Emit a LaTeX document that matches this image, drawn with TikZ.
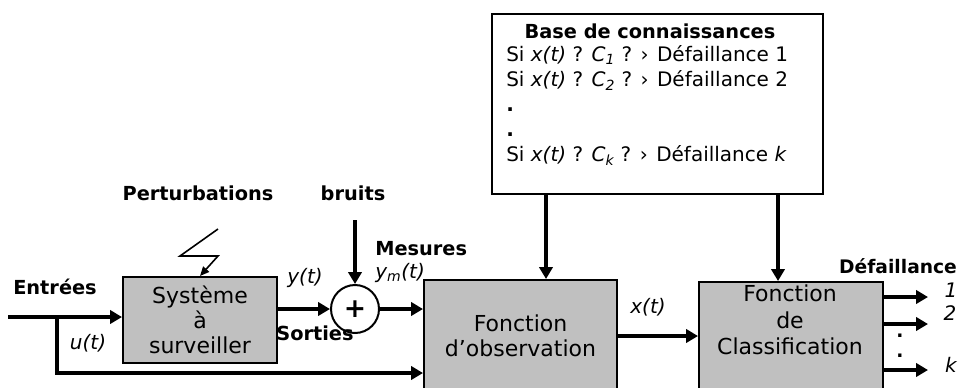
\documentclass[tikz,border=0pt]{standalone}
\usepackage{fontspec}
\setmainfont{DejaVu Sans}
\usetikzlibrary{arrows.meta}
\definecolor{grisbloc}{RGB}{192,192,192}
\begin{document}
\begin{tikzpicture}[
  x=0.75pt, y=-0.75pt,
  every node/.style={inner sep=0pt, font=\fontsize{14}{17}\selectfont},
  fleche/.style={line width=3.5pt, -{Triangle[length=9pt,width=10pt]}}
]
\tikzset{
  bloc/.style={draw, line width=1.5pt, fill=grisbloc, anchor=north west, align=center},
  texte/.style={font=\fontsize{16.5}{18.5}\selectfont},
  titre/.style={font=\fontsize{14.5}{17}\selectfont\bfseries},
  signal/.style={font=\fontsize{15}{17}\selectfont\itshape}
}
\useasboundingbox (0,0) rectangle (959,387);

% base de connaissances
\node[draw, line width=1.5pt, anchor=north west, minimum width=248.25pt, minimum height=135pt] (base) at (491,13) {};
\node[titre] (basetitre) at (650,31) {Base de connaissances};
\node[anchor=north west, align=left, font=\fontsize{15}{18.75}\selectfont] (regles) at (506,45)
  {Si \textit{x(t)} ? \textit{C\textsubscript{1}} ? › Défaillance 1\\
   Si \textit{x(t)} ? \textit{C\textsubscript{2}} ? › Défaillance 2\\
   \textbf{.}\\
   \textbf{.}\\
   Si \textit{x(t)} ? \textit{C\textsubscript{k}} ? › Défaillance \textit{k}};

% blocs
\node[bloc, texte, minimum width=115.5pt, minimum height=64.5pt] (sys) at (122,276) {Système\\à\\surveiller};
\node[bloc, texte, font=\fontsize{16.5}{18.75}\selectfont, minimum width=144.75pt, minimum height=84pt] (obs) at (423,279) {Fonction\\d’observation};
\node[bloc, minimum width=138pt, minimum height=83.25pt] (classif) at (698,281) {};
\node[align=center, font=\fontsize{16.5}{20}\selectfont] (classiftexte) at (790,320) {Fonction\\de\\Classification};
\node[draw, circle, line width=1.5pt, minimum size=36pt, font=\fontsize{20}{20}\selectfont\bfseries] (somme) at (355,309) {+};

% etiquettes
\node[titre] (perturb) at (198,193) {Perturbations};
\node[titre] (bruits) at (353,193) {bruits};
\node[titre] (entrees) at (55,287) {Entrées};
\node[titre] (sorties) at (315,333) {Sorties};
\node[titre, anchor=west] (mesures) at (375,249) {Mesures};
\node[titre, font=\fontsize{14}{17}\selectfont\bfseries] (defail) at (898,266) {Défaillance};
\node[signal] (u) at (88,343) {u(t)};
\node[signal] (y) at (305,278) {y(t)};
\node[signal, anchor=west] (ym) at (375,273) {y\textsubscript{m}(t)};
\node[signal] (x) at (648,307) {x(t)};
\node[signal] (d1) at (951,290) {1};
\node[signal] (d2) at (950,313) {2};
\node[signal] (dk) at (951,365) {k};
\node[align=center, font=\fontsize{14}{15}\selectfont\bfseries] (points) at (900,346) {.\\.};

% liaisons
\coordinate (entree) at (8,317);
\coordinate (branche) at (57,317);
\coordinate (ubas) at (57,373);
\coordinate (bruit) at (355,220);
\coordinate (kobs) at (546,193);
\coordinate (kclass) at (778,193);
\coordinate (s1) at (928,297);
\coordinate (s2) at (928,324);
\coordinate (sk) at (928,370);
\draw[fleche] (entree) -- (entree -| sys.west);
\draw[fleche] (branche) -- (ubas) -- (ubas -| obs.west);
\draw[fleche] (somme.west -| sys.east) -- (somme.west);
\draw[fleche] (bruit) -- (somme.north);
\draw[fleche] (somme.east) -- (somme.east -| obs.west);
\draw[fleche] (obs.east) -- (obs.east -| classif.west);
\draw[fleche] (kobs) -- (kobs |- obs.north);
\draw[fleche] (kclass) -- (kclass |- classif.north);
\draw[fleche] (classif.east |- s1) -- (s1);
\draw[fleche] (classif.east |- s2) -- (s2);
\draw[fleche] (classif.east |- sk) -- (sk);

% eclair
\coordinate (e1) at (218,229);
\coordinate (e2) at (180,256);
\coordinate (e3) at (218,256);
\draw[line width=1.2pt, -{Triangle[length=7pt,width=6pt]}] (e1) -- (e2) -- (e3) -- (sys.north);
\end{tikzpicture}
\end{document}
